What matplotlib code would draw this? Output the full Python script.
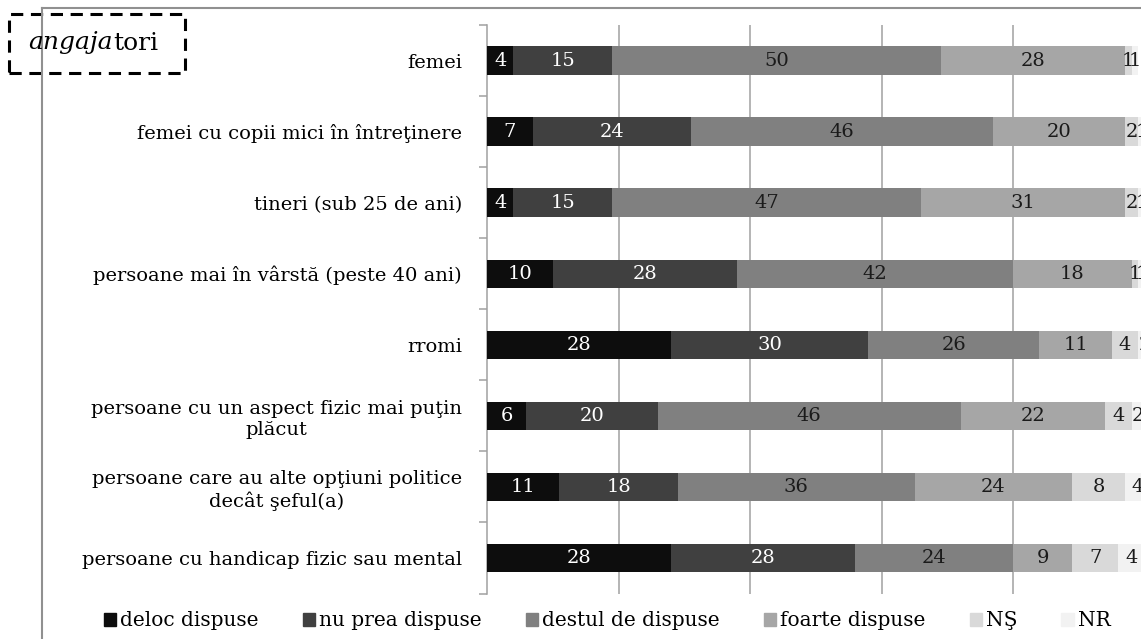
import matplotlib.pyplot as plt
from matplotlib.patches import Rectangle
from matplotlib.lines import Line2D

categories = [
    'femei',
    'femei cu copii mici în întreţinere',
    'tineri (sub 25 de ani)',
    'persoane mai în vârstă (peste 40 ani)',
    'rromi',
    'persoane cu un aspect fizic mai puţin\nplăcut',
    'persoane care au alte opţiuni politice\ndecât şeful(a)',
    'persoane cu handicap fizic sau mental',
]
series_names = ['deloc dispuse', 'nu prea dispuse', 'destul de dispuse',
                'foarte dispuse', 'NŞ', 'NR']
deloc = [4, 7, 4, 10, 28, 6, 11, 28]
nu_prea = [15, 24, 15, 28, 30, 20, 18, 28]
destul = [50, 46, 47, 42, 26, 46, 36, 24]
foarte = [28, 20, 31, 18, 11, 22, 24, 9]
ns = [1, 2, 2, 1, 4, 4, 8, 7]
nr = [1, 1, 1, 1, 2, 2, 4, 4]

colors = ['#0d0d0d', '#404040', '#808080', '#a6a6a6', '#d9d9d9', '#f2f2f2']
text_colors = ['white', 'white', '#1a1a1a', '#1a1a1a', '#1a1a1a', '#1a1a1a']

plt.rcParams['font.family'] = ['DejaVu Serif']

W, H = 1141, 639
fig = plt.figure(figsize=(W / 100, H / 100), dpi=100)
ax = fig.add_axes([487 / W, 1 - 593.5 / H, (1144.7 - 487) / W, (593.5 - 25) / H])

data = [deloc, nu_prea, destul, foarte, ns, nr]
ypos = list(range(len(categories)))
left = [0] * len(categories)
for vals, name, col, tcol in zip(data, series_names, colors, text_colors):
    bars = ax.barh(ypos, vals, left=left, height=0.4, color=col, label=name,
                   edgecolor='none', zorder=3)
    for b, v in zip(bars, vals):
        ax.text(b.get_x() + b.get_width() / 2, b.get_y() + b.get_height() / 2,
                str(v), ha='center', va='center', color=tcol, fontsize=14,
                zorder=4)
    left = [l + v for l, v in zip(left, vals)]

ax.set_xlim(0, 100)
ax.set_ylim(len(categories) - 0.5, -0.5)
ax.set_xticks([20, 40, 60, 80])
ax.tick_params(axis='x', length=0, labelbottom=False)
ax.grid(axis='x', color='#a0a0a0', linewidth=1.1, zorder=0)
ax.set_yticks(ypos)
ax.set_yticklabels(categories, fontsize=14, multialignment='center')
ax.tick_params(axis='y', which='major', length=0, pad=18)
ax.set_yticks([i + 0.5 for i in range(-1, len(categories))], minor=True)
ax.tick_params(axis='y', which='minor', length=6, color='#a0a0a0', width=1.1)
for s in ['top', 'right', 'bottom']:
    ax.spines[s].set_visible(False)
ax.spines['left'].set_color('#a0a0a0')
ax.spines['left'].set_linewidth(1.1)

handles = [Rectangle((0, 0), 1, 1, color=c) for c in colors]
fig.legend(handles, series_names, loc='center', bbox_to_anchor=(607 / W, 1 - 621 / H),
           ncol=6, frameon=False, fontsize=14.5, handlelength=0.6, handleheight=0.6,
           handletextpad=0.2, columnspacing=2.2)

# outer frame lines
fig.add_artist(Line2D([42 / W, 1], [1 - 8 / H, 1 - 8 / H], color='#909090', lw=1.5))
fig.add_artist(Line2D([42 / W, 42 / W], [1 - 8 / H, 0], color='#909090', lw=1.5))

# dashed title box
fig.add_artist(Rectangle((9 / W, 1 - 73 / H), 176 / W, 59 / H, facecolor='white',
                         edgecolor='black', linestyle=(0, (4, 2.5)), lw=2.2,
                         transform=fig.transFigure))
fig.text(113 / W, 1 - 43 / H, 'angaja', style='italic', fontsize=18,
         ha='right', va='center')
fig.text(113 / W, 1 - 43 / H, 'tori', fontsize=18, ha='left', va='center')

fig.savefig('out.png', dpi=100)
